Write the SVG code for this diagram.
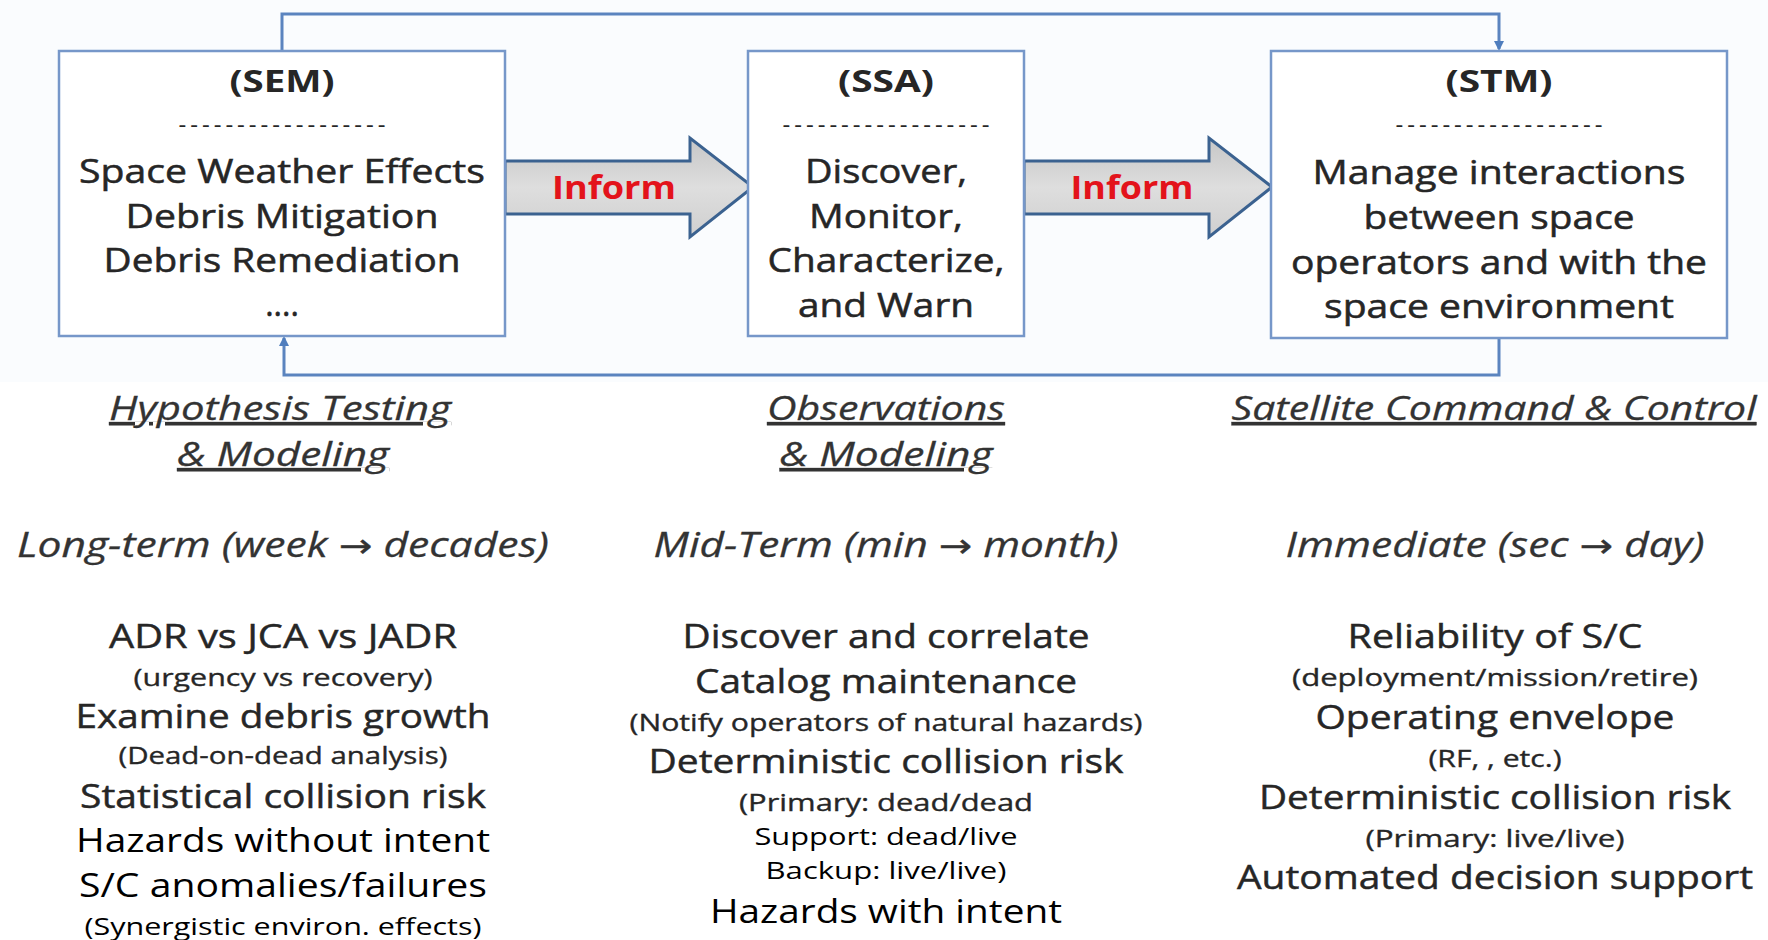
<svg xmlns="http://www.w3.org/2000/svg" width="1768" height="940" viewBox="0 0 1768 940">
<defs>
<style>
text{font-family:"Open Sans","Liberation Sans",sans-serif;text-anchor:middle;fill:#262626}
.box{fill:#ffffff;stroke:#7697c9;stroke-width:2.5}
.hd{font-weight:bold;font-size:31px}
.dash{font-size:24px;letter-spacing:4px}
.bd{font-size:32px;stroke:#262626;stroke-width:0.5}
.sub{font-style:italic;font-size:33px;text-decoration:underline;fill:#333;stroke:#333;stroke-width:0.3}
.time{font-style:italic;font-size:35px;fill:#333;stroke:#333;stroke-width:0.3}
.lg{font-size:33px;stroke:#262626;stroke-width:0.45}
.sm{font-size:24px;stroke:#262626;stroke-width:0.35}
.blk{fill:#000;stroke:none}
.inf{font-weight:bold;font-size:32px;fill:#e3131b}
.ar{font-family:"DejaVu Sans",sans-serif;font-style:normal;font-size:33px}
.conn{fill:none;stroke:#5b84bf;stroke-width:3}
.barrow{fill:url(#g);stroke:#3b6290;stroke-width:3;stroke-linejoin:miter}
</style>
<linearGradient id="g" x1="0" y1="0" x2="0" y2="1">
<stop offset="0" stop-color="#c6c6c6"/>
<stop offset="0.5" stop-color="#dedede"/>
<stop offset="1" stop-color="#cfcfcf"/>
</linearGradient>
<marker id="ah" markerWidth="10" markerHeight="10" refX="8" refY="5" orient="auto" markerUnits="userSpaceOnUse">
<path d="M0,0 L10,5 L0,10 z" fill="#4f7dbd"/>
</marker>
</defs>
<rect x="0" y="0" width="1768" height="940" fill="#ffffff"/>
<rect x="0" y="0" width="1768" height="382" fill="#fafcfe"/>

<g id="connectors">
<path class="conn" d="M282,51 V14 H1499 V49" marker-end="url(#ah)"/>
<path class="conn" d="M1499,338 V375 H284 V338" marker-end="url(#ah)"/>
</g>

<g id="arrow-inform-1">
<polygon class="barrow" points="505,161 690,161 690,138 753,187 690,237 690,214 505,214"/>
<text class="inf" x="614" y="199" textLength="124" lengthAdjust="spacingAndGlyphs">Inform</text>
</g>
<g id="arrow-inform-2">
<polygon class="barrow" points="1024,161 1209,161 1209,138 1272,187 1209,237 1209,214 1024,214"/>
<text class="inf" x="1132" y="199" textLength="123" lengthAdjust="spacingAndGlyphs">Inform</text>
</g>

<g id="node-sem">
<rect class="box" x="59" y="51" width="446" height="285"/>
<text class="hd" x="282" y="92" textLength="105" lengthAdjust="spacingAndGlyphs">(SEM)</text>
<text class="dash" x="284" y="133">------------------</text>
<text class="bd" x="282" y="183" textLength="406" lengthAdjust="spacingAndGlyphs">Space Weather Effects</text>
<text class="bd" x="282" y="228" textLength="313" lengthAdjust="spacingAndGlyphs">Debris Mitigation</text>
<text class="bd" x="282" y="272" textLength="357" lengthAdjust="spacingAndGlyphs">Debris Remediation</text>
<text class="bd" x="282" y="316">....</text>
</g>

<g id="node-ssa">
<rect class="box" x="748" y="51" width="276" height="285"/>
<text class="hd" x="886" y="92" textLength="96" lengthAdjust="spacingAndGlyphs">(SSA)</text>
<text class="dash" x="888" y="133">------------------</text>
<text class="bd" x="886" y="183" textLength="162" lengthAdjust="spacingAndGlyphs">Discover,</text>
<text class="bd" x="886" y="228" textLength="154" lengthAdjust="spacingAndGlyphs">Monitor,</text>
<text class="bd" x="886" y="272" textLength="237" lengthAdjust="spacingAndGlyphs">Characterize,</text>
<text class="bd" x="886" y="317" textLength="176" lengthAdjust="spacingAndGlyphs">and Warn</text>
</g>

<g id="node-stm">
<rect class="box" x="1271" y="51" width="456" height="287"/>
<text class="hd" x="1499" y="92" textLength="107" lengthAdjust="spacingAndGlyphs">(STM)</text>
<text class="dash" x="1501" y="133">------------------</text>
<text class="bd" x="1499" y="184" textLength="373" lengthAdjust="spacingAndGlyphs">Manage interactions</text>
<text class="bd" x="1499" y="229" textLength="271" lengthAdjust="spacingAndGlyphs">between space</text>
<text class="bd" x="1499" y="274" textLength="416" lengthAdjust="spacingAndGlyphs">operators and with the</text>
<text class="bd" x="1499" y="318" textLength="350" lengthAdjust="spacingAndGlyphs">space environment</text>
</g>

<g id="col-left">
<text class="sub" x="280" y="420" textLength="342" lengthAdjust="spacingAndGlyphs">Hypothesis Testing </text>
<text class="sub" x="283" y="466" textLength="212" lengthAdjust="spacingAndGlyphs">&amp; Modeling</text>
<text class="time" x="283" y="557" textLength="532" lengthAdjust="spacingAndGlyphs">Long-term (week <tspan class="ar">→</tspan> decades)</text>
<text class="lg" x="283" y="648" textLength="348" lengthAdjust="spacingAndGlyphs">ADR vs JCA vs JADR</text>
<text class="sm" x="283" y="686" textLength="299" lengthAdjust="spacingAndGlyphs">(urgency vs recovery)</text>
<text class="lg" x="283" y="728" textLength="415" lengthAdjust="spacingAndGlyphs">Examine debris growth</text>
<text class="sm" x="283" y="764" textLength="329" lengthAdjust="spacingAndGlyphs">(Dead-on-dead analysis)</text>
<text class="lg" x="283" y="808" textLength="406" lengthAdjust="spacingAndGlyphs">Statistical collision risk</text>
<text class="lg blk" x="283" y="852" textLength="414" lengthAdjust="spacingAndGlyphs">Hazards without intent</text>
<text class="lg blk" x="283" y="897" textLength="408" lengthAdjust="spacingAndGlyphs">S/C anomalies/failures</text>
<text class="sm blk" x="283" y="935" textLength="397" lengthAdjust="spacingAndGlyphs">(Synergistic environ. effects)</text>
</g>

<g id="col-mid">
<text class="sub" x="886" y="420" textLength="238" lengthAdjust="spacingAndGlyphs">Observations</text>
<text class="sub" x="886" y="466" textLength="213" lengthAdjust="spacingAndGlyphs">&amp; Modeling</text>
<text class="time" x="886" y="557" textLength="465" lengthAdjust="spacingAndGlyphs">Mid-Term (min <tspan class="ar">→</tspan> month)</text>
<text class="lg" x="886" y="648" textLength="407" lengthAdjust="spacingAndGlyphs">Discover and correlate</text>
<text class="lg" x="886" y="693" textLength="382" lengthAdjust="spacingAndGlyphs">Catalog maintenance</text>
<text class="sm" x="886" y="731" textLength="513" lengthAdjust="spacingAndGlyphs">(Notify operators of natural hazards)</text>
<text class="lg" x="886" y="773" textLength="475" lengthAdjust="spacingAndGlyphs">Deterministic collision risk</text>
<text class="sm" x="886" y="811" textLength="294" lengthAdjust="spacingAndGlyphs">(Primary: dead/dead</text>
<text class="sm blk" x="886" y="845" textLength="263" lengthAdjust="spacingAndGlyphs">Support: dead/live</text>
<text class="sm blk" x="886" y="879" textLength="241" lengthAdjust="spacingAndGlyphs">Backup: live/live)</text>
<text class="lg blk" x="886" y="923" textLength="352" lengthAdjust="spacingAndGlyphs">Hazards with intent</text>
</g>

<g id="col-right">
<text class="sub" x="1494" y="420" textLength="525" lengthAdjust="spacingAndGlyphs">Satellite Command &amp; Control</text>
<text class="time" x="1495" y="557" textLength="419" lengthAdjust="spacingAndGlyphs">Immediate (sec <tspan class="ar">→</tspan> day)</text>
<text class="lg" x="1495" y="648" textLength="295" lengthAdjust="spacingAndGlyphs">Reliability of S/C</text>
<text class="sm" x="1495" y="686" textLength="406" lengthAdjust="spacingAndGlyphs">(deployment/mission/retire)</text>
<text class="lg" x="1495" y="729" textLength="359" lengthAdjust="spacingAndGlyphs">Operating envelope</text>
<text class="sm" x="1495" y="767" textLength="133" lengthAdjust="spacingAndGlyphs">(RF, , etc.)</text>
<text class="lg" x="1495" y="809" textLength="472" lengthAdjust="spacingAndGlyphs">Deterministic collision risk</text>
<text class="sm" x="1495" y="847" textLength="259" lengthAdjust="spacingAndGlyphs">(Primary: live/live)</text>
<text class="lg" x="1495" y="889" textLength="516" lengthAdjust="spacingAndGlyphs">Automated decision support</text>
</g>
</svg>
